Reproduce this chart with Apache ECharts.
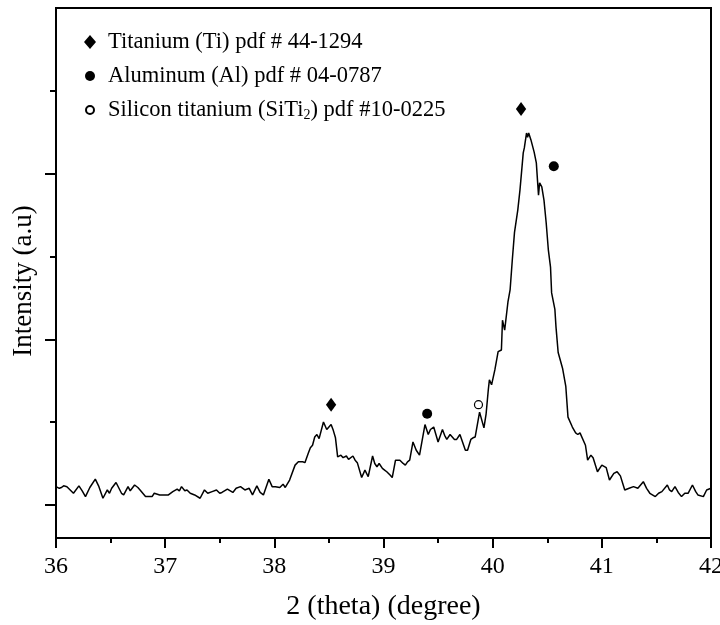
<!DOCTYPE html>
<html>
<head>
<meta charset="utf-8">
<script src="https://cdn.jsdelivr.net/npm/echarts@6/dist/echarts.min.js"></script>
<style>
  html, body { margin: 0; padding: 0; background: #fff; }
  #main { width: 720px; height: 625px; }
</style>
</head>
<body>
<div id="main"></div>
<script>
// XRD pattern
let twoTheta = [
  36.00, 36.01, 36.03, 36.05, 36.07, 36.10, 36.13, 36.16, 36.21, 36.24,
  36.27, 36.31, 36.36, 36.39, 36.43, 36.47, 36.49, 36.51, 36.55, 36.60,
  36.62, 36.66, 36.68, 36.72, 36.75, 36.77, 36.82, 36.88, 36.90, 36.95,
  37.03, 37.07, 37.11, 37.13, 37.15, 37.18, 37.20, 37.23, 37.27, 37.32,
  37.36, 37.39, 37.43, 37.47, 37.50, 37.52, 37.57, 37.62, 37.65, 37.69,
  37.73, 37.77, 37.80, 37.84, 37.87, 37.90, 37.95, 37.98, 38.01, 38.05,
  38.08, 38.10, 38.14, 38.19, 38.22, 38.26, 38.28, 38.31, 38.33, 38.35,
  38.37, 38.39, 38.41, 38.45, 38.48, 38.52, 38.54, 38.56, 38.58, 38.61,
  38.63, 38.66, 38.68, 38.72, 38.74, 38.76, 38.80, 38.83, 38.86, 38.90,
  38.92, 38.94, 38.96, 38.99, 39.01, 39.03, 39.06, 39.08, 39.11, 39.15,
  39.18, 39.20, 39.22, 39.24, 39.27, 39.30, 39.33, 39.38, 39.41, 39.43,
  39.46, 39.48, 39.50, 39.54, 39.56, 39.58, 39.61, 39.63, 39.65, 39.67,
  39.70, 39.75, 39.77, 39.80, 39.82, 39.84, 39.88, 39.92, 39.94, 39.96,
  39.97, 39.99, 40.02, 40.05, 40.08, 40.09, 40.11, 40.14, 40.16, 40.18,
  40.20, 40.23, 40.25, 40.27, 40.28, 40.29, 40.31, 40.32, 40.33, 40.35,
  40.38, 40.40, 40.41, 40.42, 40.43, 40.45, 40.47, 40.49, 40.51, 40.53,
  40.54, 40.57, 40.58, 40.60, 40.64, 40.67, 40.69, 40.73, 40.76, 40.78,
  40.80, 40.85, 40.87, 40.90, 40.92, 40.96, 41.00, 41.04, 41.07, 41.11,
  41.14, 41.17, 41.21, 41.25, 41.29, 41.33, 41.38, 41.41, 41.44, 41.49,
  41.52, 41.55, 41.60, 41.62, 41.64, 41.67, 41.70, 41.73, 41.76, 41.79,
  41.83, 41.86, 41.88, 41.93, 41.96, 42.00
];
let intensity = [
  0.22, 0.23, 0.20, 0.21, 0.23, 0.22, 0.18, 0.14, 0.23, 0.17,
  0.10, 0.21, 0.31, 0.23, 0.08, 0.18, 0.14, 0.20, 0.27, 0.14,
  0.12, 0.22, 0.17, 0.24, 0.21, 0.18, 0.10, 0.10, 0.14, 0.12,
  0.12, 0.16, 0.19, 0.17, 0.22, 0.17, 0.18, 0.14, 0.12, 0.08,
  0.18, 0.14, 0.16, 0.18, 0.14, 0.15, 0.19, 0.15, 0.20, 0.22,
  0.18, 0.20, 0.12, 0.23, 0.15, 0.12, 0.31, 0.22, 0.22, 0.21,
  0.25, 0.21, 0.30, 0.48, 0.52, 0.52, 0.51, 0.62, 0.69, 0.72,
  0.82, 0.85, 0.80, 1.00, 0.91, 0.97, 0.90, 0.81, 0.58, 0.60,
  0.57, 0.59, 0.55, 0.59, 0.54, 0.51, 0.33, 0.42, 0.34, 0.59,
  0.50, 0.46, 0.50, 0.44, 0.42, 0.40, 0.36, 0.33, 0.54, 0.54,
  0.50, 0.48, 0.52, 0.54, 0.76, 0.66, 0.60, 0.97, 0.85, 0.91,
  0.94, 0.85, 0.76, 0.91, 0.84, 0.79, 0.85, 0.82, 0.79, 0.79,
  0.85, 0.66, 0.66, 0.79, 0.81, 0.82, 1.12, 0.93, 1.10, 1.39,
  1.51, 1.45, 1.63, 1.85, 1.87, 2.23, 2.11, 2.45, 2.60, 2.96,
  3.29, 3.56, 3.80, 4.10, 4.25, 4.31, 4.49, 4.44, 4.49, 4.41,
  4.26, 4.13, 3.93, 3.74, 3.89, 3.84, 3.68, 3.41, 3.08, 2.87,
  2.56, 2.36, 2.15, 1.84, 1.65, 1.43, 1.06, 0.94, 0.87, 0.85,
  0.87, 0.72, 0.54, 0.60, 0.57, 0.40, 0.48, 0.45, 0.30, 0.38,
  0.40, 0.35, 0.18, 0.20, 0.22, 0.20, 0.28, 0.20, 0.14, 0.10,
  0.14, 0.16, 0.24, 0.18, 0.16, 0.22, 0.15, 0.10, 0.14, 0.14,
  0.24, 0.16, 0.12, 0.10, 0.18, 0.20
];

// peak markers
let tiTheta = [38.52, 40.26];
let tiValue = [1.21, 4.78];
let alTheta = [39.40, 40.56];
let alValue = [1.10, 4.09];
let siTheta = [39.87];
let siValue = [1.21];

let tiName = 'Titanium (Ti) pdf # 44-1294';
let alName = 'Aluminum (Al) pdf # 04-0787';
let siName = 'Silicon titanium (SiTi2) pdf #10-0225';

let xTicks = [36, 37, 38, 39, 40, 41, 42];
let yMajorTicks = [0, 2, 4];
let yMinorTicks = [1, 3, 5];

function zip(xs, ys) {
  return xs.map(function (x, i) { return [x, ys[i]]; });
}

let serif = "'Liberation Serif', 'Times New Roman', serif";
// symbols drawn in a 14x14 box so legend icons keep their own size
let diamond = 'path://M6 0L12 7L6 14L0 7Z';
let dot = 'path://M0 0M14 14M12 7A5 5 0 1 1 2 7A5 5 0 1 1 12 7Z';
let ring = 'path://M0 0M14 14M11 7A4 4 0 1 1 3 7A4 4 0 1 1 11 7Z';

let myChart = echarts.init(document.getElementById('main'));
let option = {
  animation: false,
  backgroundColor: '#fff',
  textStyle: { fontFamily: serif, color: '#000' },
  grid: {
    left: 56, right: 9, top: 8, bottom: 87,
    show: true,
    borderColor: '#000',
    borderWidth: 2,
    outerBoundsMode: 'none'
  },
  legend: {
    orient: 'vertical',
    left: 77,
    top: 25,
    itemWidth: 26,
    itemHeight: 14,
    itemGap: 10,
    selectedMode: false,
    data: [tiName, alName, siName],
    formatter: function (name) {
      if (name === siName) {
        return 'Silicon titanium (SiTi{sub|2}) pdf #10-0225';
      }
      return name;
    },
    textStyle: {
      fontFamily: serif,
      fontSize: 22.5,
      lineHeight: 24,
      color: '#000',
      rich: {
        sub: { fontFamily: serif, fontSize: 14, lineHeight: 14, verticalAlign: 'bottom', color: '#000' }
      }
    }
  },
  xAxis: {
    type: 'value',
    min: 36,
    max: 42,
    interval: 1,
    name: '2 (theta) (degree)',
    nameLocation: 'middle',
    nameGap: 55,
    nameTextStyle: { fontFamily: serif, fontSize: 28, color: '#000' },
    axisLine: { onZero: false, lineStyle: { color: '#000', width: 2 } },
    axisTick: { length: 10, lineStyle: { color: '#000', width: 2 } },
    minorTick: { show: true, splitNumber: 2, length: 5, lineStyle: { color: '#000', width: 2 } },
    axisLabel: {
      margin: 17,
      fontFamily: serif,
      fontSize: 24,
      color: '#000',
      formatter: function (v) { return xTicks.indexOf(v) >= 0 ? String(v) : ''; }
    },
    splitLine: { show: false }
  },
  yAxis: [
    {
      type: 'value',
      min: -0.4,
      max: 6,
      name: 'Intensity (a.u)',
      nameLocation: 'middle',
      nameGap: 19,
      nameTextStyle: { fontFamily: serif, fontSize: 27, color: '#000', padding: [0, 16, 0, 0] },
      axisLine: { show: true, onZero: false, lineStyle: { color: '#000', width: 2 } },
      axisTick: { show: true, length: 11, customValues: yMajorTicks, lineStyle: { color: '#000', width: 2 } },
      axisLabel: { show: false },
      splitLine: { show: false }
    },
    {
      type: 'value',
      position: 'left',
      min: -0.4,
      max: 6,
      axisLine: { show: false, onZero: false },
      axisTick: { show: true, length: 6, customValues: yMinorTicks, lineStyle: { color: '#000', width: 2 } },
      axisLabel: { show: false },
      splitLine: { show: false }
    }
  ],
  series: [
    {
      name: 'pattern',
      type: 'line',
      data: zip(twoTheta, intensity),
      showSymbol: false,
      lineStyle: { color: '#000', width: 1.5 },
      silent: true,
      z: 2
    },
    {
      name: tiName,
      type: 'scatter',
      data: zip(tiTheta, tiValue),
      symbol: diamond,
      symbolSize: [12, 14],
      symbolKeepAspect: true,
      itemStyle: { color: '#000', opacity: 1 },
      z: 3
    },
    {
      name: alName,
      type: 'scatter',
      data: zip(alTheta, alValue),
      symbol: dot,
      symbolSize: 14,
      symbolKeepAspect: true,
      itemStyle: { color: '#000', opacity: 1 },
      z: 3
    },
    {
      name: siName,
      type: 'scatter',
      data: zip(siTheta, siValue),
      symbol: ring,
      symbolSize: 14,
      symbolKeepAspect: true,
      itemStyle: { color: '#fff', borderColor: '#000', borderWidth: 1.2, opacity: 1 },
      z: 3
    }
  ]
};
myChart.setOption(option, true);
</script>
</body>
</html>
